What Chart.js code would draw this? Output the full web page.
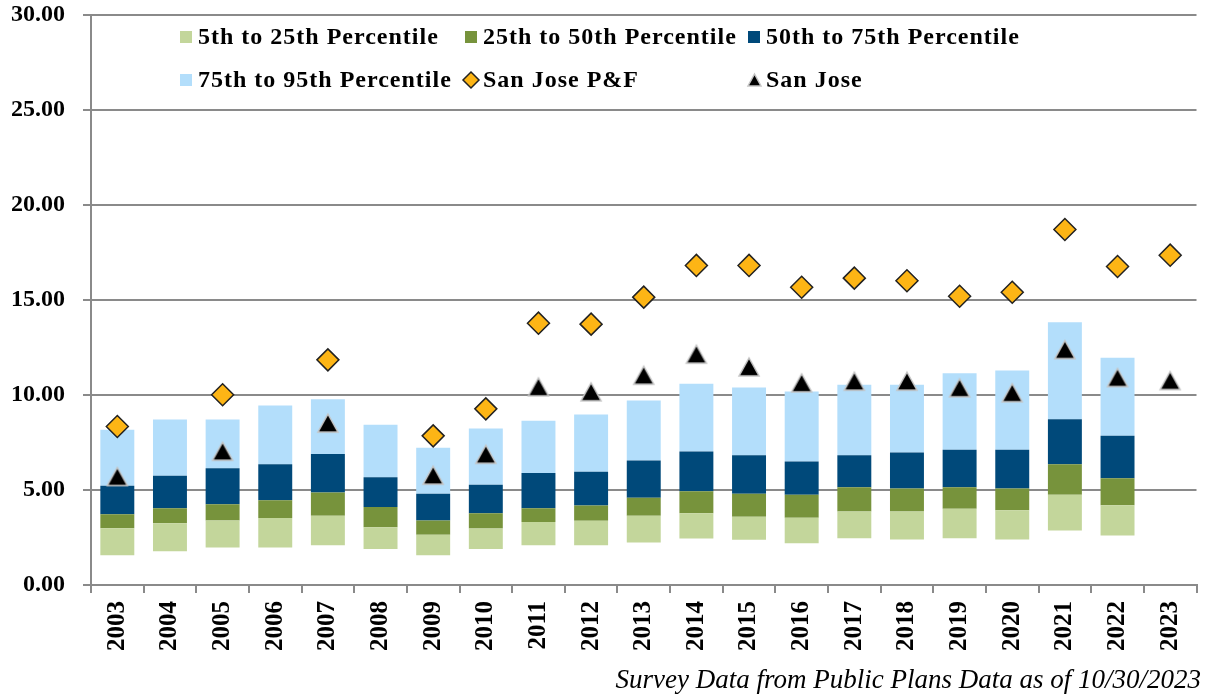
<!DOCTYPE html>
<html>
<head>
<meta charset="utf-8">
<script src="https://cdn.jsdelivr.net/npm/chart.js@4.4.1/dist/chart.umd.min.js"></script>
<style>
  html, body { margin: 0; padding: 0; background: #ffffff; }
  #wrap { width: 1209px; height: 696px; position: relative; }
</style>
</head>
<body>
<div id="wrap"><canvas id="c" width="1209" height="696"></canvas></div>
<script>
// ---- Data ----
const years = ['2003','2004','2005','2006','2007','2008','2009','2010','2011','2012','2013','2014','2015','2016','2017','2018','2019','2020','2021','2022','2023'];
const p5  = [1.57,1.78,1.97,1.97,2.09,1.90,1.57,1.90,2.09,2.09,2.24,2.45,2.38,2.20,2.46,2.39,2.46,2.39,2.87,2.61,null];
const p25 = [2.99,3.25,3.39,3.52,3.64,3.04,2.64,2.97,3.31,3.38,3.64,3.78,3.59,3.54,3.87,3.87,4.01,3.94,4.75,4.20,null];
const p50 = [3.73,4.04,4.25,4.46,4.87,4.11,3.39,3.78,4.04,4.18,4.59,4.94,4.80,4.75,5.15,5.08,5.15,5.08,6.36,5.62,null];
const p75 = [5.22,5.75,6.15,6.36,6.89,5.67,4.80,5.27,5.89,5.96,6.55,7.03,6.83,6.50,6.83,6.97,7.12,7.12,8.73,7.85,null];
const p95 = [8.17,8.71,8.71,9.45,9.78,8.43,7.22,8.24,8.64,8.97,9.71,10.59,10.39,10.18,10.54,10.54,11.15,11.29,13.83,11.96,null];
const sanJosePF = [8.34,null,10.01,null,11.85,null,7.85,9.27,13.78,13.73,15.15,16.82,16.82,15.67,16.15,16.01,15.20,15.41,18.71,16.76,17.36];
const sanJose   = [5.71,null,7.04,null,8.52,null,5.78,6.88,10.43,10.17,11.04,12.15,11.48,10.64,10.73,10.73,10.38,10.12,12.39,10.92,10.76];
const yTicks = [0,5,10,15,20,25,30];
const seriesNames = ['5th to 25th Percentile','25th to 50th Percentile','50th to 75th Percentile','75th to 95th Percentile','San Jose P&F','San Jose'];
const footnote = 'Survey Data from Public Plans Data as of 10/30/2023';

// ---- Styles ----
const COLORS = { c1: '#C3D69B', c2: '#77933C', c3: '#00497A', c4: '#B3DEFB', dia: '#FDB515' };
const SERIF = "'Liberation Serif', 'Times New Roman', serif";

function range(lo, hi) { return lo.map((v, i) => (v == null || hi[i] == null) ? null : [v, hi[i]]); }

function makeTriangle(w, h) {
  const cv = document.createElement('canvas');
  const pad = 2;
  cv.width = w + pad * 2; cv.height = h + pad * 2;
  const c = cv.getContext('2d');
  c.beginPath();
  c.moveTo(pad + w / 2, pad);
  c.lineTo(pad + w, pad + h);
  c.lineTo(pad, pad + h);
  c.closePath();
  c.fillStyle = '#000000';
  c.fill();
  c.lineWidth = 1.5;
  c.strokeStyle = '#c4c4c4';
  c.stroke();
  return cv;
}
const triImg = makeTriangle(20, 18);
const triSmall = makeTriangle(13, 12);

const barCommon = { type: 'bar', barPercentage: 0.645, categoryPercentage: 1, borderWidth: 0, order: 2 };

const extras = {
  id: 'extras',
  afterDraw(chart) {
    const ctx = chart.ctx;
    const L = chart.chartArea.left;
    ctx.save();
    ctx.font = 'bold 24px ' + SERIF;
    ctx.fillStyle = '#000';
    ctx.textBaseline = 'middle';
    ctx.textAlign = 'left';
    try { ctx.letterSpacing = '1px'; } catch (e) {}
    const rows = [37, 80];
    const cols = [L + 89, L + 374, L + 657];
    const items = [
      { col: 0, row: 0, kind: 'sq', color: COLORS.c1, text: seriesNames[0] },
      { col: 1, row: 0, kind: 'sq', color: COLORS.c2, text: seriesNames[1] },
      { col: 2, row: 0, kind: 'sq', color: COLORS.c3, text: seriesNames[2] },
      { col: 0, row: 1, kind: 'sq', color: COLORS.c4, text: seriesNames[3] },
      { col: 1, row: 1, kind: 'dia', text: seriesNames[4] },
      { col: 2, row: 1, kind: 'tri', text: seriesNames[5] }
    ];
    items.forEach(it => {
      const x = cols[it.col], y = rows[it.row];
      if (it.kind === 'sq') {
        ctx.fillStyle = it.color;
        ctx.fillRect(x, y - 6, 12, 12);
      } else if (it.kind === 'dia') {
        ctx.beginPath();
        ctx.moveTo(x - 2 + 8, y - 8);
        ctx.lineTo(x - 2 + 16, y);
        ctx.lineTo(x - 2 + 8, y + 8);
        ctx.lineTo(x - 2, y);
        ctx.closePath();
        ctx.fillStyle = COLORS.dia;
        ctx.fill();
        ctx.lineWidth = 1.5;
        ctx.strokeStyle = '#222';
        ctx.stroke();
      } else {
        ctx.drawImage(triSmall, x - 2, y - 8);
      }
      ctx.fillStyle = '#000';
      ctx.fillText(it.text, x + 18, y + 1);
    });
    try { ctx.letterSpacing = '0px'; } catch (e) {}
    ctx.font = 'italic 27px ' + SERIF;
    ctx.textAlign = 'right';
    ctx.textBaseline = 'alphabetic';
    ctx.fillText(footnote, 1201, 688);
    ctx.restore();
  }
};

const chart = new Chart(document.getElementById('c'), {
  data: {
    labels: years,
    datasets: [
      { ...barCommon, label: seriesNames[0], data: range(p5, p25), backgroundColor: COLORS.c1 },
      { ...barCommon, label: seriesNames[1], data: range(p25, p50), backgroundColor: COLORS.c2 },
      { ...barCommon, label: seriesNames[2], data: range(p50, p75), backgroundColor: COLORS.c3 },
      { ...barCommon, label: seriesNames[3], data: range(p75, p95), backgroundColor: COLORS.c4 },
      { type: 'line', label: seriesNames[4], data: sanJosePF, showLine: false, order: 0,
        pointStyle: 'rectRot', pointRadius: 11, pointHoverRadius: 11,
        pointBackgroundColor: COLORS.dia, pointBorderColor: '#222', pointBorderWidth: 1.5 },
      { type: 'line', label: seriesNames[5], data: sanJose, showLine: false, order: 1,
        pointStyle: triImg, pointRadius: 11, pointHoverRadius: 11 }
    ]
  },
  options: {
    responsive: false,
    animation: false,
    events: [],
    layout: { padding: { top: 0, right: 10, bottom: 0, left: 0 } },
    plugins: { legend: { display: false }, title: { display: false }, tooltip: { enabled: false } },
    scales: {
      x: {
        stacked: true,
        offset: true,
        grid: { display: true, drawOnChartArea: false, drawTicks: true, tickLength: 8, offset: true, color: '#8a8a8a', lineWidth: 2 },
        border: { display: true, color: '#8a8a8a', width: 2 },
        ticks: { autoSkip: false, minRotation: 90, maxRotation: 90, padding: 8, color: '#000', font: { family: SERIF, size: 25, weight: 'bold' } },
        afterFit(s) { s.height = 111; }
      },
      y: {
        stacked: false,
        min: 0, max: 30,
        afterBuildTicks(s) { s.ticks = yTicks.map(v => ({ value: v })); },
        grid: { color: '#8a8a8a', lineWidth: 2, drawTicks: true, tickLength: 8 },
        border: { display: true, color: '#8a8a8a', width: 2 },
        ticks: { padding: 18, color: '#000', font: { family: SERIF, size: 24, weight: 'bold' }, callback: v => Number(v).toFixed(2) },
        afterFit(s) { s.width = 91; s.paddingTop = 15; s.paddingBottom = 0; }
      }
    }
  },
  plugins: [extras]
});
</script>
</body>
</html>
